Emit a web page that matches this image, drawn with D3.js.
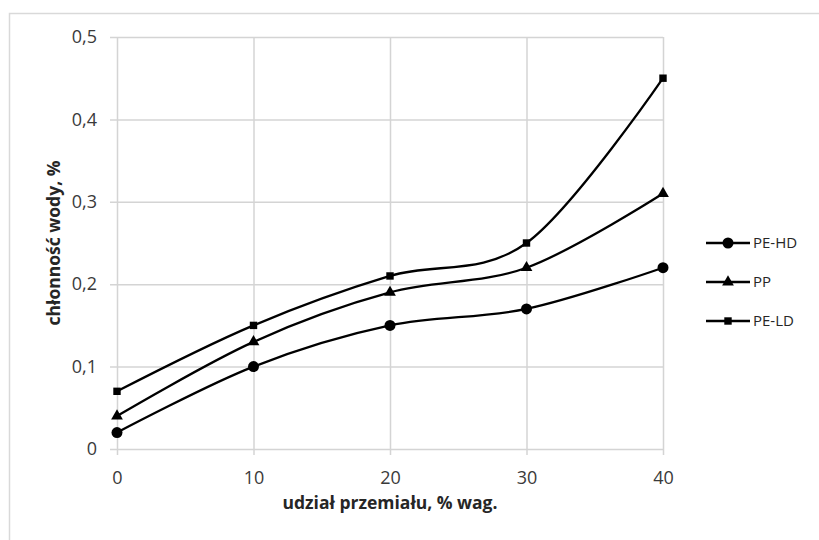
<!DOCTYPE html>
<html>
<head>
<meta charset="utf-8">
<script src="https://cdn.jsdelivr.net/npm/d3@7"></script>
<style>
  body { margin: 0; background: #fff; }
  text { font-family: "Open Sans", "Noto Sans", sans-serif; }
</style>
</head>
<body>
<div id="chart"></div>
<script>
const xValues = [0, 10, 20, 30, 40];
const peHD = [0.02, 0.10, 0.15, 0.17, 0.22];
const pp = [0.04, 0.13, 0.19, 0.22, 0.31];
const peLD = [0.07, 0.15, 0.21, 0.25, 0.45];
const seriesNames = ["PE-HD", "PP", "PE-LD"];
const yTicks = [0, 0.1, 0.2, 0.3, 0.4, 0.5];

let width = 819, height = 540;
let margin = { top: 37, right: 156, bottom: 91, left: 117 };

const svg = d3.select("#chart").append("svg")
  .attr("width", width)
  .attr("height", height);

// outer frame (only top/left visible)
svg.append("path")
  .attr("d", `M9.5,${height}V13.5H${width}`)
  .attr("fill", "none")
  .attr("stroke", "#d9d9d9")
  .attr("stroke-width", 1.5);

let x = d3.scaleLinear()
  .domain([0, 40])
  .range([margin.left, width - margin.right]);

let y = d3.scaleLinear()
  .domain([0, 0.5])
  .range([height - margin.bottom, margin.top]);

const fmt = d => d === 0 ? "0" : d3.format(".1f")(d).replace(".", ",");

// grid + axes
svg.append("g")
  .attr("transform", `translate(${margin.left},0)`)
  .call(d3.axisLeft(y).tickValues(yTicks).tickFormat(fmt)
    .tickSize(-(width - margin.left - margin.right)).tickPadding(20))
  .call(g => g.select(".domain").remove())
  .call(g => g.selectAll(".tick line").attr("x1", -7).attr("stroke", "#d4d4d4").attr("stroke-width", 1.5))
  .call(g => g.selectAll(".tick text").style("font-size", "18px").attr("fill", "#3a3a3a"));

svg.append("g")
  .attr("transform", `translate(0,${height - margin.bottom})`)
  .call(d3.axisBottom(x).tickValues(xValues)
    .tickSize(-(height - margin.top - margin.bottom)).tickPadding(22))
  .call(g => g.select(".domain").remove())
  .call(g => g.selectAll(".tick line").attr("y1", 6).attr("stroke", "#d4d4d4").attr("stroke-width", 1.5))
  .call(g => g.selectAll(".tick text").style("font-size", "18px").attr("fill", "#3a3a3a"));

// axis titles
svg.append("text")
  .attr("x", 390)
  .attr("y", 509)
  .attr("text-anchor", "middle")
  .style("font-size", "17.5px")
  .attr("font-weight", "bold")
  .attr("fill", "#262626")
  .text("udział przemiału, % wag.");

svg.append("text")
  .attr("transform", `translate(60,${(margin.top + height - margin.bottom) / 2}) rotate(-90)`)
  .attr("text-anchor", "middle")
  .style("font-size", "17.5px")
  .attr("font-weight", "bold")
  .attr("fill", "#262626")
  .text("chłonność wody, %");

const series = [
  { name: seriesNames[0], values: peHD, symbol: d3.symbolCircle, size: 95 },
  { name: seriesNames[1], values: pp, symbol: d3.symbolTriangle, size: 60 },
  { name: seriesNames[2], values: peLD, symbol: d3.symbolSquare, size: 55 }
];

const line = d3.line()
  .x((d, i) => x(xValues[i]))
  .y(d => y(d))
  .curve(d3.curveCatmullRom.alpha(0));

series.forEach(s => {
  svg.append("path")
    .attr("d", line(s.values))
    .attr("fill", "none")
    .attr("stroke", "#000")
    .attr("stroke-width", 2.3);

  svg.append("g").selectAll("path")
    .data(s.values)
    .enter().append("path")
    .attr("transform", (d, i) => `translate(${x(xValues[i])},${y(d)})`)
    .attr("d", d3.symbol().type(s.symbol).size(s.size))
    .attr("fill", "#000");
});

// legend
const legend = svg.append("g")
  .selectAll("g")
  .data(series)
  .enter().append("g")
  .attr("transform", (d, i) => `translate(706,${243 + i * 39})`);

legend.append("line")
  .attr("x1", 0).attr("x2", 44)
  .attr("stroke", "#000").attr("stroke-width", 2.3);

legend.append("path")
  .attr("transform", "translate(22,0)")
  .attr("d", d => d3.symbol().type(d.symbol).size(d.size)())
  .attr("fill", "#000");

legend.append("text")
  .attr("x", 47)
  .attr("dy", "0.35em")
  .style("font-size", "15px")
  .attr("fill", "#262626")
  .text(d => d.name);
</script>
</body>
</html>
